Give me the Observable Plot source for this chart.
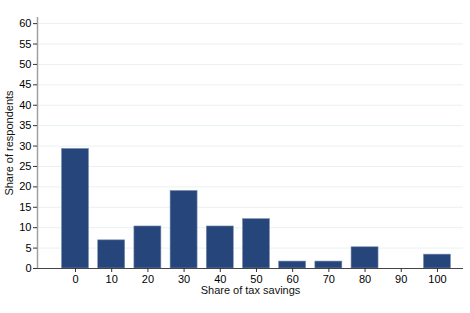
<!DOCTYPE html>
<html>
<head>
<meta charset="utf-8">
<script src="https://cdn.jsdelivr.net/npm/d3@7"></script>
<script src="https://cdn.jsdelivr.net/npm/@observablehq/plot@0.6"></script>
<style>
  html, body { margin: 0; padding: 0; background: #fff; }
  #chart svg { display: block; }
</style>
</head>
<body>
<div id="chart"></div>
<script>
const shares = [0, 10, 20, 30, 40, 50, 60, 70, 80, 90, 100];
const respondents = [29.3, 6.9, 10.3, 19.0, 10.3, 12.1, 1.7, 1.7, 5.2, 0, 3.4];
const yTicks = [0, 5, 10, 15, 20, 25, 30, 35, 40, 45, 50, 55, 60];
const xTicks = [0, 10, 20, 30, 40, 50, 60, 70, 80, 90, 100];
const xTitle = "Share of tax savings";
const yTitle = "Share of respondents";

const data = shares.map((s, i) => ({share: s, value: respondents[i]}));

const chart = Plot.plot({
  width: 470,
  height: 313,
  marginLeft: 37,
  marginRight: 7,
  marginTop: 17,
  marginBottom: 45,
  style: {fontFamily: "'Liberation Sans', Arial, sans-serif", fontSize: "11px", background: "#fff", color: "#000"},
  x: {domain: [-10.5, 107.2]},
  y: {domain: [0, 61.5]},
  marks: [
    Plot.gridY(yTicks, {stroke: "#e9f1f3", strokeOpacity: 1, strokeWidth: 1}),
    Plot.rectY(data.filter(d => d.value > 0), {
      x1: d => d.share - 5, x2: d => d.share + 5, y: "value",
      insetLeft: 4.6, insetRight: 4.6,
      fill: "#26457a", stroke: "#7f90b0", strokeWidth: 0.6
    }),
    Plot.ruleX([-10.5], {stroke: "#a0a0a0", strokeWidth: 1.5}),
    Plot.ruleY([0], {stroke: "#444", strokeWidth: 1}),
    Plot.axisY({ticks: yTicks, tickSize: 4, tickPadding: 2, label: null, stroke: "#333", fill: "#000"}),
    Plot.axisX({ticks: xTicks, tickSize: 4, tickPadding: 3, label: null, stroke: "#333", fill: "#000"}),
    Plot.text([xTitle], {frameAnchor: "bottom", dy: 25, fill: "#111", fontSize: 11, textAnchor: "middle"}),
    Plot.text([yTitle], {frameAnchor: "left", dx: -28, rotate: -90, fill: "#111", fontSize: 11, textAnchor: "middle"})
  ]
});
document.getElementById("chart").appendChild(chart);
</script>
</body>
</html>
